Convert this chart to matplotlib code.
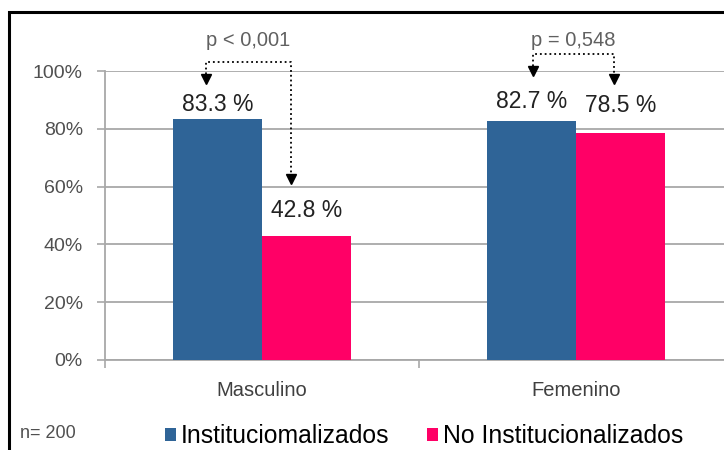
import numpy as np
import matplotlib.pyplot as plt
from matplotlib.patches import Rectangle

# data:
categories = ['Masculino', 'Femenino']
series_names = ['Instituciomalizados', 'No Institucionalizados']
inst = [83.3, 82.7]
no_inst = [42.8, 78.5]
p_values = ['p < 0,001', 'p = 0,548']
n_text = 'n= 200'

blue = '#2F6497'
pink = '#FF0066'
grid_gray = '#A8A8A8'

plt.rcParams['font.family'] = ['Liberation Sans', 'DejaVu Sans']

fig = plt.figure(figsize=(7.24, 4.5), dpi=100)
W, H = 724, 450
ax = fig.add_axes([105 / W, 90 / H, 628 / W, 289 / H])

x = np.arange(len(categories))
bw = 0.285
b1 = ax.bar(x - bw / 2, inst, bw, color=blue, label=series_names[0], zorder=3)
b2 = ax.bar(x + bw / 2, no_inst, bw, color=pink, label=series_names[1], zorder=3)

ax.set_xlim(-0.5, 1.5)
ax.set_ylim(0, 100)
ax.set_yticks(np.arange(0, 101, 20))
ax.set_yticklabels(['%d%%' % v for v in range(0, 101, 20)], fontsize=14, color='#505050')
ax.yaxis.grid(True, color=grid_gray, linewidth=1.3, zorder=0)
ax.set_xticks(x)
ax.set_xticklabels(categories, fontsize=14.5, color='#404040')
ax.set_xticks([-0.5, 0.5, 1.5], minor=True)
ax.tick_params(axis='x', which='major', length=0, pad=15)
ax.tick_params(axis='x', which='minor', length=6, color=grid_gray, width=1.2)
ax.tick_params(axis='y', length=6, color=grid_gray, width=1.2, pad=10)
for s in ['top', 'right']:
    ax.spines[s].set_visible(False)
for s in ['left', 'bottom']:
    ax.spines[s].set_color(grid_gray)
    ax.spines[s].set_linewidth(1.3)

# value labels above bars (extra lift where arrows come down)
label_lift = [[5, 6.6], [9, 9.4]]
for j, vals in enumerate([inst, no_inst]):
    xs = x - bw / 2 if j == 0 else x + bw / 2
    for i, v in enumerate(vals):
        ax.text(xs[i], v + label_lift[j][i], '%.1f %%' % v, ha='center', va='center',
                fontsize=16.5, color='#222222')

# p-value brackets with dotted arrows
bracket_y = [103.1, 105.9]
tips = [[95.2, 60.6], [97.9, 95.2]]
shift = [[-0.037, -0.05], [0.005, -0.02]]
for i in range(len(categories)):
    xl = x[i] - bw / 2 + shift[i][0]
    xr = x[i] + bw / 2 + shift[i][1]
    yb = bracket_y[i]
    ax.plot([xl, xl, xr, xr], [tips[i][0] + 2, yb, yb, tips[i][1] + 2], ls=':',
            color='black', lw=1.3, clip_on=False, zorder=4)
    for xx, tt in [(xl, tips[i][0]), (xr, tips[i][1])]:
        ax.plot(xx, tt + 2, marker='v', ms=7.5, color='black', clip_on=False, zorder=4)
    ax.text((xl + xr) / 2, 110.4, p_values[i], ha='center', va='center',
            fontsize=14.5, color='#606060', clip_on=False)

# legend and sample size
fig.legend(handles=[b1, b2], loc='center', bbox_to_anchor=(424 / W, 1 - 436 / H),
           ncol=2, frameon=False, fontsize=17.8, handlelength=0.45, handleheight=0.45,
           handletextpad=0.2, columnspacing=1.5)
fig.text(20 / W, 1 - 434 / H, n_text, fontsize=13, color='#505050', va='center')

# outer black frame
fig.patches.append(Rectangle((9 / W, -0.1), 1.2, 1 - 12 / H + 0.1, transform=fig.transFigure,
                             fill=False, edgecolor='black', linewidth=2.2))

plt.savefig('out.png', dpi=100)
